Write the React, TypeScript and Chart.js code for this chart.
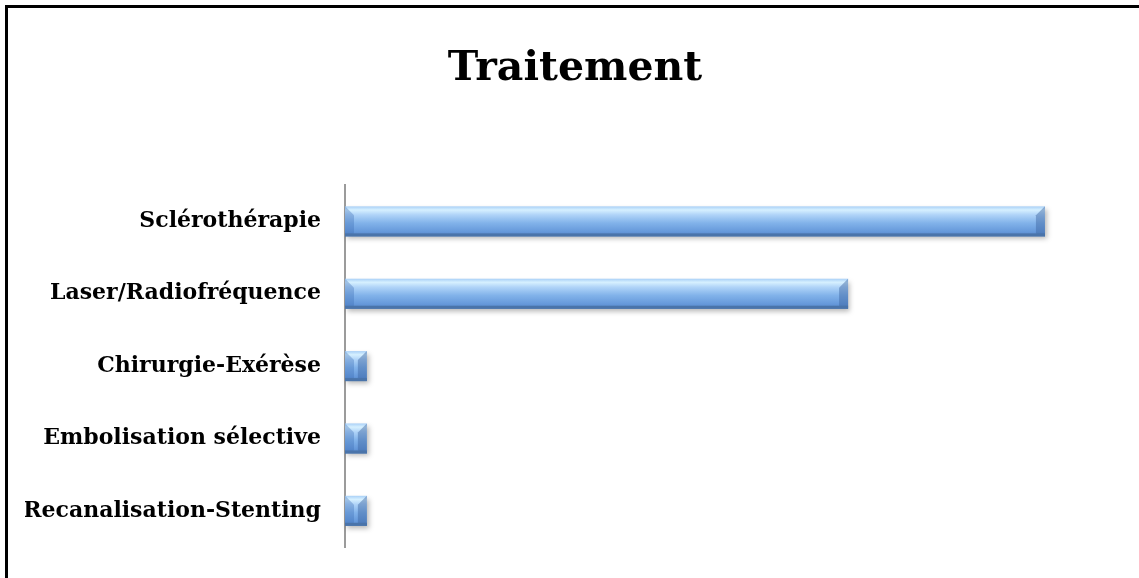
import React, { useEffect, useRef } from "react";
import { Chart, registerables } from "chart.js";

Chart.register(...registerables);

const categories = [
  "Sclérothérapie",
  "Laser/Radiofréquence",
  "Chirurgie-Exérèse",
  "Embolisation sélective",
  "Recanalisation-Stenting",
];
const values = [32, 23, 1, 1, 1];
const titleText = "Traitement";

const bevelPlugin = {
  id: "bevelBars",
  afterDatasetsDraw(chart: any) {
    const ctx = chart.ctx;
    const meta = chart.getDatasetMeta(0);
    meta.data.forEach((bar: any) => {
      const { x, y, base, height } = bar.getProps(["x", "y", "base", "height"], true);
      const left = Math.min(x, base);
      const right = Math.max(x, base);
      const top = y - height / 2;
      const bottom = y + height / 2;
      const w = right - left;
      ctx.save();
      ctx.shadowColor = "rgba(0,0,0,0.28)";
      ctx.shadowBlur = 5;
      ctx.shadowOffsetX = 2;
      ctx.shadowOffsetY = 3;
      const g = ctx.createLinearGradient(0, top, 0, bottom);
      g.addColorStop(0, "#a9d0f7");
      g.addColorStop(0.12, "#d6f0ff");
      g.addColorStop(0.28, "#b0d4f8");
      g.addColorStop(0.55, "#82b3ea");
      g.addColorStop(0.85, "#6598da");
      g.addColorStop(1, "#5281bf");
      ctx.fillStyle = g;
      ctx.fillRect(left, top, w, height);
      ctx.restore();
      ctx.save();
      const b = Math.min(9, w / 2);
      ctx.fillStyle = "rgba(60,110,180,0.35)";
      ctx.beginPath();
      ctx.moveTo(left, top);
      ctx.lineTo(left + b, top + b);
      ctx.lineTo(left + b, bottom - 3);
      ctx.lineTo(left, bottom);
      ctx.closePath();
      ctx.fill();
      ctx.fillStyle = "rgba(60,100,160,0.45)";
      ctx.beginPath();
      ctx.moveTo(right, top);
      ctx.lineTo(right - b, top + b);
      ctx.lineTo(right - b, bottom - 3);
      ctx.lineTo(right, bottom);
      ctx.closePath();
      ctx.fill();
      ctx.fillStyle = "#4a74aa";
      ctx.fillRect(left, bottom - 3, w, 3);
      ctx.restore();
    });
  },
};

export default function App() {
  const canvasRef = useRef<HTMLCanvasElement | null>(null);

  useEffect(() => {
    if (!canvasRef.current) return;
    const chart = new Chart(canvasRef.current, {
      type: "bar",
      data: {
        labels: categories,
        datasets: [
          {
            data: values,
            backgroundColor: "rgba(0,0,0,0)",
            borderWidth: 0,
            categoryPercentage: 1,
            barPercentage: 0.415,
          },
        ],
      },
      options: {
        indexAxis: "y",
        animation: false,
        responsive: false,
        maintainAspectRatio: false,
        layout: { padding: { left: 25, right: 14, top: 0, bottom: 31 } },
        plugins: {
          legend: { display: false },
          tooltip: { enabled: false },
          title: {
            display: true,
            text: titleText,
            color: "#000",
            font: { family: "'DejaVu Serif'", size: 41, weight: "bold", lineHeight: 1.2 },
            padding: { top: 45, bottom: 91 },
          },
        },
        scales: {
          x: {
            display: false,
            min: 0,
            max: 35.66,
          },
          y: {
            afterFit: (scale: any) => {
              scale.width = 320;
              scale.paddingTop = 0;
              scale.paddingBottom = 0;
            },
            grid: { display: false, drawTicks: false },
            border: { display: true, color: "#9b9b9b", width: 2 },
            ticks: {
              color: "#000",
              padding: 24,
              font: { family: "'DejaVu Serif'", size: 22, weight: "bold" },
            },
          },
        },
      },
      plugins: [bevelPlugin],
    });
    return () => chart.destroy();
  }, []);

  return (
    <div style={{ position: "fixed", left: 0, top: 0, width: 1139, height: 578, background: "#fff" }}>
      <canvas ref={canvasRef} width={1139} height={578} style={{ position: "absolute", left: 0, top: 0 }} />
      <div
        style={{
          position: "absolute",
          left: 5,
          top: 5,
          width: 1300,
          height: 800,
          borderLeft: "3px solid #000",
          borderTop: "3px solid #000",
          pointerEvents: "none",
        }}
      />
    </div>
  );
}
